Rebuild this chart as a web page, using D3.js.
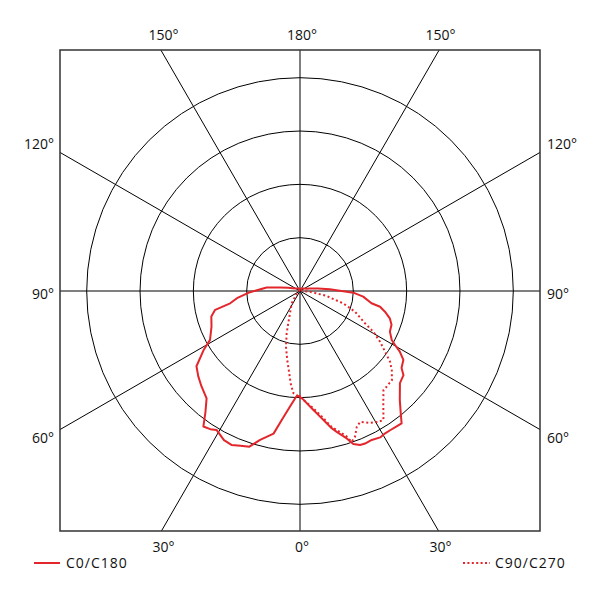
<!DOCTYPE html>
<html>
<head>
<meta charset="utf-8">
<script src="https://cdn.jsdelivr.net/npm/d3@7"></script>
<style>
  body { margin: 0; background: #fff; }
  text { font-family: "Open Sans", sans-serif; font-size: 14px; fill: #111; }
</style>
</head>
<body>
<script>
// dados (graus a partir do nadir, cd/klm)
var c0Deg  = [0, 2, 5, 8, 10.5, 15, 18, 21, 24, 27, 31, 33, 35.5, 38, 41, 46, 50, 54, 58.5, 61.5, 68, 74, 77.5, 80, 83.5, 88, 96, 100, 105, 110, 120, 140, 180];
var c0Val  = [197, 198, 218, 244, 272, 289, 307, 311, 316, 314, 304, 309, 312, 288, 267, 257, 249, 240, 212, 192, 179, 173, 163, 133, 119, 97, 63, 38, 23, 15, 9, 6, 4];

var c180Deg = [0, 1, 5.7, 9.7, 13, 14.6, 17.6, 19.2, 21.3, 23.1, 25.7, 28.7, 30.9, 32.9, 35.5, 37.5, 39.5, 42.5, 47.3, 50.9, 52.8, 56.3, 58.7, 60.4, 61.9, 65.7, 69.7, 73.1, 76.3, 78.9, 80.3, 84.9, 88.2, 93.2, 98, 105, 110, 120, 140, 180];
var c180Val = [199, 201, 221, 242, 264, 273, 290, 304, 310, 311, 310, 313, 311, 311, 312, 313, 297, 277, 255, 250, 239, 233, 219, 205, 195, 185, 183, 176, 164, 153, 136, 119, 100, 56, 34, 19, 13, 9, 6, 4];

var c90Deg = [0, 5.7, 9.7, 13, 17.6, 18.9, 20.7, 22.7, 24.7, 28, 30.9, 32.9, 36.6, 40.1, 42.2, 45.9, 49.3, 51.8, 54.5, 57.6, 61, 63.6, 69.4, 74.1, 77, 80, 85, 90, 100, 180];
var c90Val = [199, 218, 238, 261, 285, 299, 292, 276, 270, 280, 286, 288, 262, 243, 242, 240, 227, 215, 196, 178, 157, 136, 110, 84, 61, 49, 19, 8, 4, 2];

var c270Deg = [0, 3.7, 5.8, 7.4, 10.4, 14.1, 17.5, 19.9, 24.2, 34, 41.3, 50, 70, 90, 180];
var c270Val = [199, 192, 174, 156, 132, 108, 83, 65, 46, 28, 14, 8, 4, 2, 2];

var rings = [100, 200, 300, 400];
var spokes = d3.range(0, 360, 30);
var topLabels = ["150°", "180°", "150°"];
var sideLabels = ["120°", "90°", "60°"];
var bottomLabels = ["30°", "0°", "30°"];
var legendNames = ["C0/C180", "C90/C270"];

var w = 600, h = 600;
var cx = 300, cy = 291;
var box = {x0: 60, y0: 50, x1: 540, y1: 531};
var red = "#e3262b";

var svg = d3.select("body").append("svg").attr("width", w).attr("height", h);

var rScale = d3.scaleLinear().domain([0, 400]).range([0, 213.3]);

svg.append("clipPath").attr("id", "frame")
  .append("rect")
  .attr("x", box.x0).attr("y", box.y0)
  .attr("width", box.x1 - box.x0).attr("height", box.y1 - box.y0);

var g = svg.append("g").attr("clip-path", "url(#frame)");

// circulos
g.selectAll("circle")
  .data(rings)
  .enter()
  .append("circle")
  .attr("cx", cx).attr("cy", cy)
  .attr("r", function(d) { return rScale(d); })
  .attr("fill", "none")
  .attr("stroke", "#000")
  .attr("stroke-width", 1);

// raios
g.selectAll("line")
  .data(spokes)
  .enter()
  .append("line")
  .attr("x1", cx).attr("y1", cy)
  .attr("x2", function(d) { return cx + 500 * Math.sin(d * Math.PI / 180); })
  .attr("y2", function(d) { return cy + 500 * Math.cos(d * Math.PI / 180); })
  .attr("stroke", "#000")
  .attr("stroke-width", 1);

// curvas
function half(deg, val, side) {
  return deg.map(function(d, i) {
    var t = d * Math.PI / 180;
    return {a: side < 0 ? Math.PI + t : Math.PI - t, r: rScale(val[i])};
  });
}

var radial = d3.lineRadial()
  .angle(function(d) { return d.a; })
  .radius(function(d) { return d.r; });

var solid = half(c0Deg, c0Val, -1).reverse().concat(half(c180Deg, c180Val, 1));
var dotted = half(c270Deg, c270Val, -1).reverse().concat(half(c90Deg, c90Val, 1));

g.append("path")
  .attr("transform", "translate(" + cx + "," + cy + ")")
  .attr("d", radial(dotted))
  .attr("fill", "none")
  .attr("stroke", red)
  .attr("stroke-width", 2)
  .attr("stroke-dasharray", "2,2.6");

g.append("path")
  .attr("transform", "translate(" + cx + "," + cy + ")")
  .attr("d", radial(solid))
  .attr("fill", "none")
  .attr("stroke", red)
  .attr("stroke-width", 2)
  .attr("stroke-linejoin", "round");

// moldura
svg.append("rect")
  .attr("x", box.x0).attr("y", box.y0)
  .attr("width", box.x1 - box.x0).attr("height", box.y1 - box.y0)
  .attr("fill", "none")
  .attr("stroke", "#333")
  .attr("stroke-width", 1.5);

// rotulos
var off = 240 * Math.tan(30 * Math.PI / 180);
var colX = [cx - off, cx, cx + off];

svg.selectAll("text.top")
  .data(topLabels)
  .enter()
  .append("text")
  .attr("class", "top")
  .attr("x", function(d, i) { return colX[i] + 2; })
  .attr("y", 40)
  .attr("text-anchor", "middle")
  .text(function(d) { return d; });

svg.selectAll("text.bottom")
  .data(bottomLabels)
  .enter()
  .append("text")
  .attr("class", "bottom")
  .attr("x", function(d, i) { return colX[i] + 2; })
  .attr("y", 552)
  .attr("text-anchor", "middle")
  .text(function(d) { return d; });

var rowY = [149, 299, 443];

svg.selectAll("text.left")
  .data(sideLabels)
  .enter()
  .append("text")
  .attr("class", "left")
  .attr("x", 54)
  .attr("y", function(d, i) { return rowY[i]; })
  .attr("text-anchor", "end")
  .text(function(d) { return d; });

svg.selectAll("text.right")
  .data(sideLabels)
  .enter()
  .append("text")
  .attr("class", "right")
  .attr("x", 547)
  .attr("y", function(d, i) { return rowY[i]; })
  .attr("text-anchor", "start")
  .text(function(d) { return d; });

// legenda
svg.append("line")
  .attr("x1", 34).attr("x2", 60).attr("y1", 563).attr("y2", 563)
  .attr("stroke", red).attr("stroke-width", 2);
svg.append("text")
  .attr("x", 66).attr("y", 568)
  .attr("letter-spacing", "1px")
  .text(legendNames[0]);

svg.append("line")
  .attr("x1", 463).attr("x2", 490).attr("y1", 563).attr("y2", 563)
  .attr("stroke", red).attr("stroke-width", 2)
  .attr("stroke-dasharray", "2,2.4");
svg.append("text")
  .attr("x", 495).attr("y", 568)
  .attr("letter-spacing", "1px")
  .text(legendNames[1]);
</script>
</body>
</html>
